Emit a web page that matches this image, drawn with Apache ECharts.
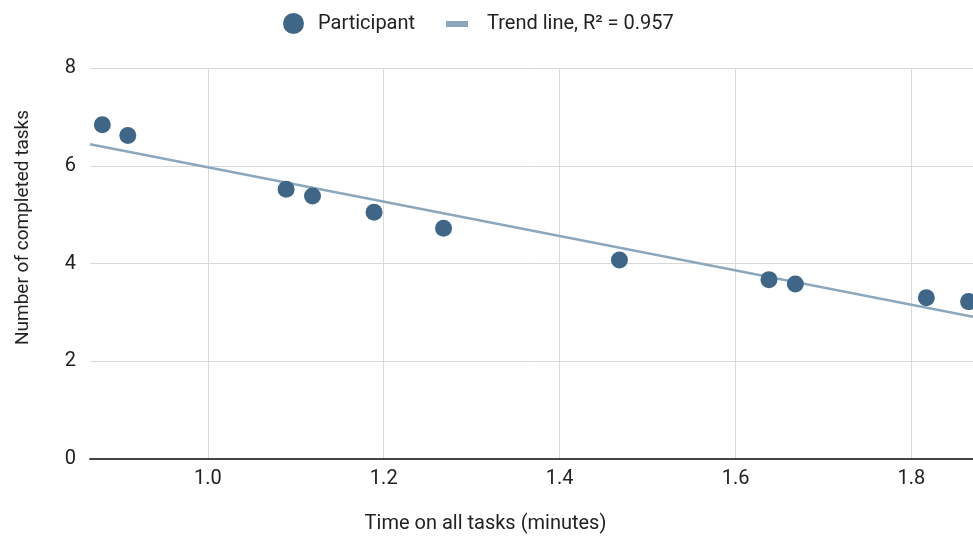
<!DOCTYPE html>
<html>
<head>
<meta charset="utf-8">
<script src="https://cdn.jsdelivr.net/npm/echarts@6/dist/echarts.min.js"></script>
<style>
    html, body { margin: 0; padding: 0; background: #fff; }
    #chart { width: 973px; height: 539px; }
</style>
</head>
<body>
<div id="chart"></div>
<script>
// Participant times (minutes) and completed tasks
const timeMinutes = [0.880, 0.909, 1.089, 1.119, 1.189, 1.268, 1.468, 1.638, 1.668, 1.817, 1.865];
const completedTasks = [6.84, 6.62, 5.52, 5.38, 5.05, 4.72, 4.07, 3.67, 3.58, 3.30, 3.22];

// Trend line end points
const trendX = [0.866, 1.87];
const trendY = [6.44, 2.91];

const yTicks = [0, 2, 4, 6, 8];

const pointColor = '#3f6686';
const lineColor = '#8ba7be';
const font = 'Roboto, "Noto Sans", sans-serif';

const chart = echarts.init(document.getElementById('chart'));

const participants = timeMinutes.map((t, i) => [t, completedTasks[i]]);
const trend = trendX.map((t, i) => [t, trendY[i]]);

chart.setOption({
    animation: false,
    textStyle: { fontFamily: font, color: '#222' },
    legend: [
        {
            data: ['Participant'],
            left: 278,
            top: 8,
            icon: 'circle',
            itemWidth: 21,
            itemHeight: 21,
            textStyle: { fontSize: 20, color: '#222', fontFamily: font, padding: [0, 0, 0, 9] }
        },
        {
            data: ['Trend line, R² = 0.957'],
            left: 441,
            top: 9,
            icon: 'rect',
            itemWidth: 22,
            itemHeight: 6,
            textStyle: { fontSize: 20, color: '#222', fontFamily: font, padding: [0, 0, 0, 14] }
        }
    ],
    grid: {
        left: 90,
        right: 0,
        top: 68,
        bottom: 78
    },
    xAxis: {
        type: 'value',
        min: 0.866,
        max: 1.87,
        splitNumber: 5,
        name: 'Time on all tasks (minutes)',
        nameLocation: 'middle',
        nameGap: 55,
        // title sits left of the plot centre in the original
        nameTextStyle: { fontSize: 20, color: '#222', fontFamily: font, padding: [0, 92, 0, 0] },
        axisLine: { show: true, lineStyle: { color: '#444', width: 2 } },
        axisTick: { show: false },
        axisLabel: {
            fontSize: 20,
            color: '#222',
            margin: 10,
            showMinLabel: false,
            showMaxLabel: false,
            formatter: v => v.toFixed(1)
        },
        splitLine: {
            show: true,
            showMinLine: false,
            showMaxLine: false,
            lineStyle: { color: '#d9d9d9', width: 1 }
        }
    },
    yAxis: {
        type: 'value',
        min: yTicks[0],
        max: yTicks[yTicks.length - 1],
        interval: 2,
        name: 'Number of completed tasks',
        nameLocation: 'middle',
        nameGap: 57,
        nameTextStyle: { fontSize: 19, color: '#222', fontFamily: font, padding: [0, 0, 0, 72] },
        axisLine: { show: false },
        axisTick: { show: false },
        axisLabel: { fontSize: 20, color: '#222', margin: 14 },
        splitLine: { lineStyle: { color: '#d9d9d9', width: 1 } }
    },
    series: [
        {
            name: 'Trend line, R² = 0.957',
            type: 'line',
            data: trend,
            symbol: 'none',
            lineStyle: { color: lineColor, width: 2.5 },
            itemStyle: { color: lineColor },
            z: 2
        },
        {
            name: 'Participant',
            type: 'scatter',
            data: participants,
            symbolSize: 17,
            itemStyle: { color: pointColor, opacity: 1 },
            z: 3
        }
    ]
});
</script>
</body>
</html>
